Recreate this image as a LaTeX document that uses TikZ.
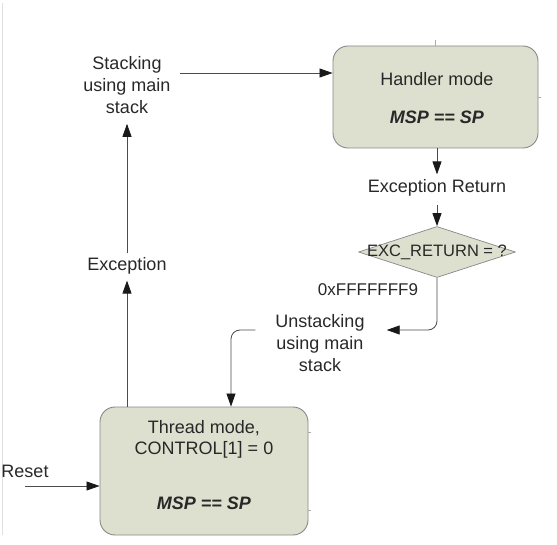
\documentclass[tikz,border=0pt]{standalone}
\usepackage{fontspec}
\setmainfont{Liberation Sans}
\usetikzlibrary{arrows.meta,shapes.geometric}
\definecolor{boxfill}{RGB}{221,224,206}
\definecolor{boxline}{RGB}{135,135,135}
\definecolor{txt}{RGB}{40,40,40}
\definecolor{lineclr}{RGB}{75,75,75}
\begin{document}
\begin{tikzpicture}[x=1pt,y=-1pt,
  every node/.style={text=txt, font=\fontsize{18}{22}\selectfont},
  modebox/.style={draw=boxline, fill=boxfill, rounded corners=15pt, line width=0.9pt, inner sep=0pt},
  decision/.style={diamond, draw=boxline, fill=boxfill, line width=0.7pt, inner sep=0pt},
  conn/.style={draw=lineclr, line width=0.8pt, -{Triangle[length=13pt,width=9pt,color=black!90]}},
  lbl/.style={align=center, inner sep=0pt},
  stub/.style={draw=boxline!70, line width=0.6pt}]
\useasboundingbox (0,0) rectangle (557,545);
% faint left edge
\draw[black!12, line width=0.8pt] (2,3) -- (2,535);

% boxes
\node[modebox, minimum width=205pt, minimum height=102pt] (handler) at (435.5,97) {};
\node[lbl] (htitle) at (437,79) {Handler mode};
\node[lbl] (hsp) at (437,117) {\textbf{\textit{MSP == SP}}};

\node[modebox, minimum width=208pt, minimum height=128pt] (thread) at (204,471) {};
\node[lbl] (t1) at (204,428) {Thread mode,};
\node[lbl] (t2) at (204,450) {CONTROL[1] = 0};
\node[lbl] (tsp) at (204,503) {\textbf{\textit{MSP == SP}}};

\node[decision, minimum width=157pt, minimum height=51pt] (dia) at (437,252) {};
\node[lbl, font=\fontsize{16.5}{20}\selectfont] (dtext) at (437,252) {EXC\_RETURN = ?};

% labels
\node[lbl] (stack) at (127,85) {Stacking\\using main\\stack};
\node[lbl] (exc) at (127,266) {Exception};
\node[lbl] (excret) at (437,188) {Exception Return};
\node[lbl, font=\fontsize{17}{20}\selectfont] (code) at (368,290) {0xFFFFFFF9};
\node[lbl] (unst) at (320,343) {Unstacking\\using main\\stack};
\node[lbl] (reset) at (25,471) {Reset};

% stubs
\draw[stub] (handler.north) -- ++(0,-6);
\draw[stub] (handler.east) -- ++(3,0);
\draw[stub] ([yshift=39pt]thread.east) -- ++(3,0);
\draw[stub] ([yshift=-39pt]thread.east) -- ++(3,0);

% connectors
\draw[conn] ([shift={(9,-12)}]stack.east) coordinate (s1) -- (s1 -| handler.west);
\draw[conn] (exc |- thread.north) -- ([yshift=-6pt]exc.south);
\draw[conn] ([yshift=4pt]exc.north) -- ([yshift=-10pt]stack.south);
\draw[conn] ([xshift=1.5pt]handler.south) -- ([yshift=5pt]excret.north);
\draw[conn] ([yshift=-8pt]excret.south) -- (dia.north);
\draw[conn, rounded corners=9pt] (dia.south) |- ([shift={(22,-13)}]unst.east);
\draw[conn, rounded corners=9pt] ([shift={(-20,-13)}]unst.west) -| ([xshift=27pt]thread.north);
\coordinate (rs) at (25,486);
\draw[conn] (rs) -- (rs -| thread.west);
\end{tikzpicture}
\end{document}
